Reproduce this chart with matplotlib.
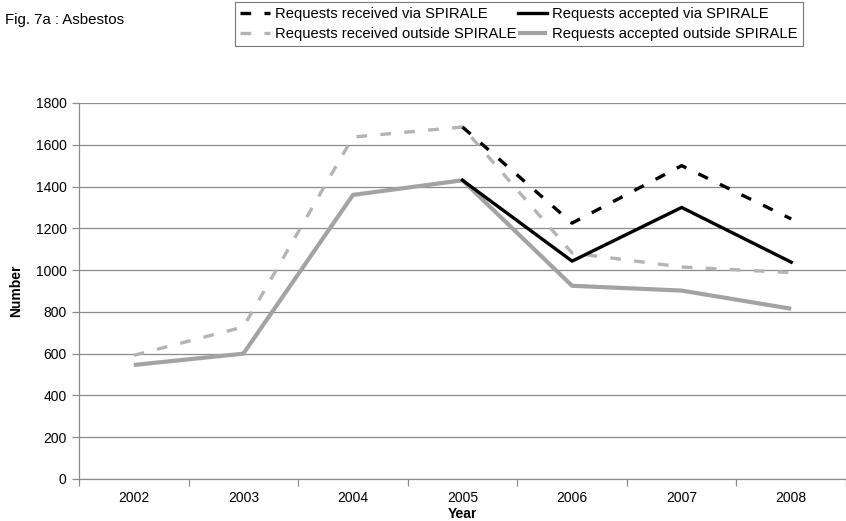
import matplotlib.pyplot as plt
import numpy as np

plt.rcParams['font.family'] = ['Liberation Sans', 'DejaVu Sans']

# data
years = ['2002', '2003', '2004', '2005', '2006', '2007', '2008']
received_via = [np.nan, np.nan, np.nan, 1685, 1225, 1500, 1245]
accepted_via = [np.nan, np.nan, np.nan, 1430, 1043, 1300, 1038]
received_outside = [592, 728, 1637, 1685, 1082, 1015, 988]
accepted_outside = [546, 600, 1360, 1430, 925, 902, 815]

fig = plt.figure(figsize=(8.46, 5.21), dpi=100)
ax = fig.add_axes([79 / 846, 1 - 479 / 521, 767 / 846, 376 / 521])

x = np.arange(len(years))

# grey series first, black on top
ax.plot(x, accepted_outside, color='#a3a3a3', lw=3.0, solid_capstyle='butt',
        label='Requests accepted outside SPIRALE', zorder=3)
ax.plot(x, received_outside, color='#b4b4b4', lw=2.4, dashes=(3.2, 4.0),
        label='Requests received outside SPIRALE', zorder=3)
ax.plot(x, accepted_via, color='black', lw=2.4,
        label='Requests accepted via SPIRALE', zorder=4)
ax.plot(x, received_via, color='black', lw=2.4, dashes=(3.2, 4.0),
        label='Requests received via SPIRALE', zorder=4)

ax.set_xlim(-0.5, len(years) - 0.5)
ax.set_ylim(0, 1800)
ax.set_yticks(np.arange(0, 1801, 200))
ax.yaxis.grid(True, color='#8c8c8c', lw=0.9)
ax.set_axisbelow(True)

ax.set_xticks(x)
ax.set_xticklabels(years, fontsize=10)
ax.set_xticks(np.arange(-0.5, len(years)), minor=True)
ax.tick_params(axis='x', which='major', length=0, pad=9)
ax.tick_params(axis='x', which='minor', length=5, color='#8c8c8c', width=0.9)
ax.tick_params(axis='y', length=5, color='#8c8c8c', width=0.9, labelsize=10, pad=4)

for side in ['top', 'right']:
    ax.spines[side].set_visible(False)
for side in ['left', 'bottom']:
    ax.spines[side].set_color('#8c8c8c')
    ax.spines[side].set_linewidth(0.9)

ax.set_xlabel('Year', fontsize=10, fontweight='bold', labelpad=1)
ax.set_ylabel('Number', fontsize=10, fontweight='bold', labelpad=9)

fig.text(5 / 846, 1 - 20 / 521, 'Fig. 7a : Asbestos', fontsize=10.8, va='center')

handles, labels = ax.get_legend_handles_labels()
order = [3, 1, 2, 0]
leg = fig.legend([handles[i] for i in order], [labels[i] for i in order],
                 ncol=2, loc='upper left', bbox_to_anchor=(235 / 846, 1 - 2 / 521),
                 fontsize=10.6, frameon=True, fancybox=False, edgecolor='#555555',
                 handlelength=2.0, handletextpad=0.35, columnspacing=0.1,
                 labelspacing=0.4, borderpad=0.35, borderaxespad=0)
leg.get_frame().set_linewidth(0.8)

fig.savefig('out.png', dpi=100)
